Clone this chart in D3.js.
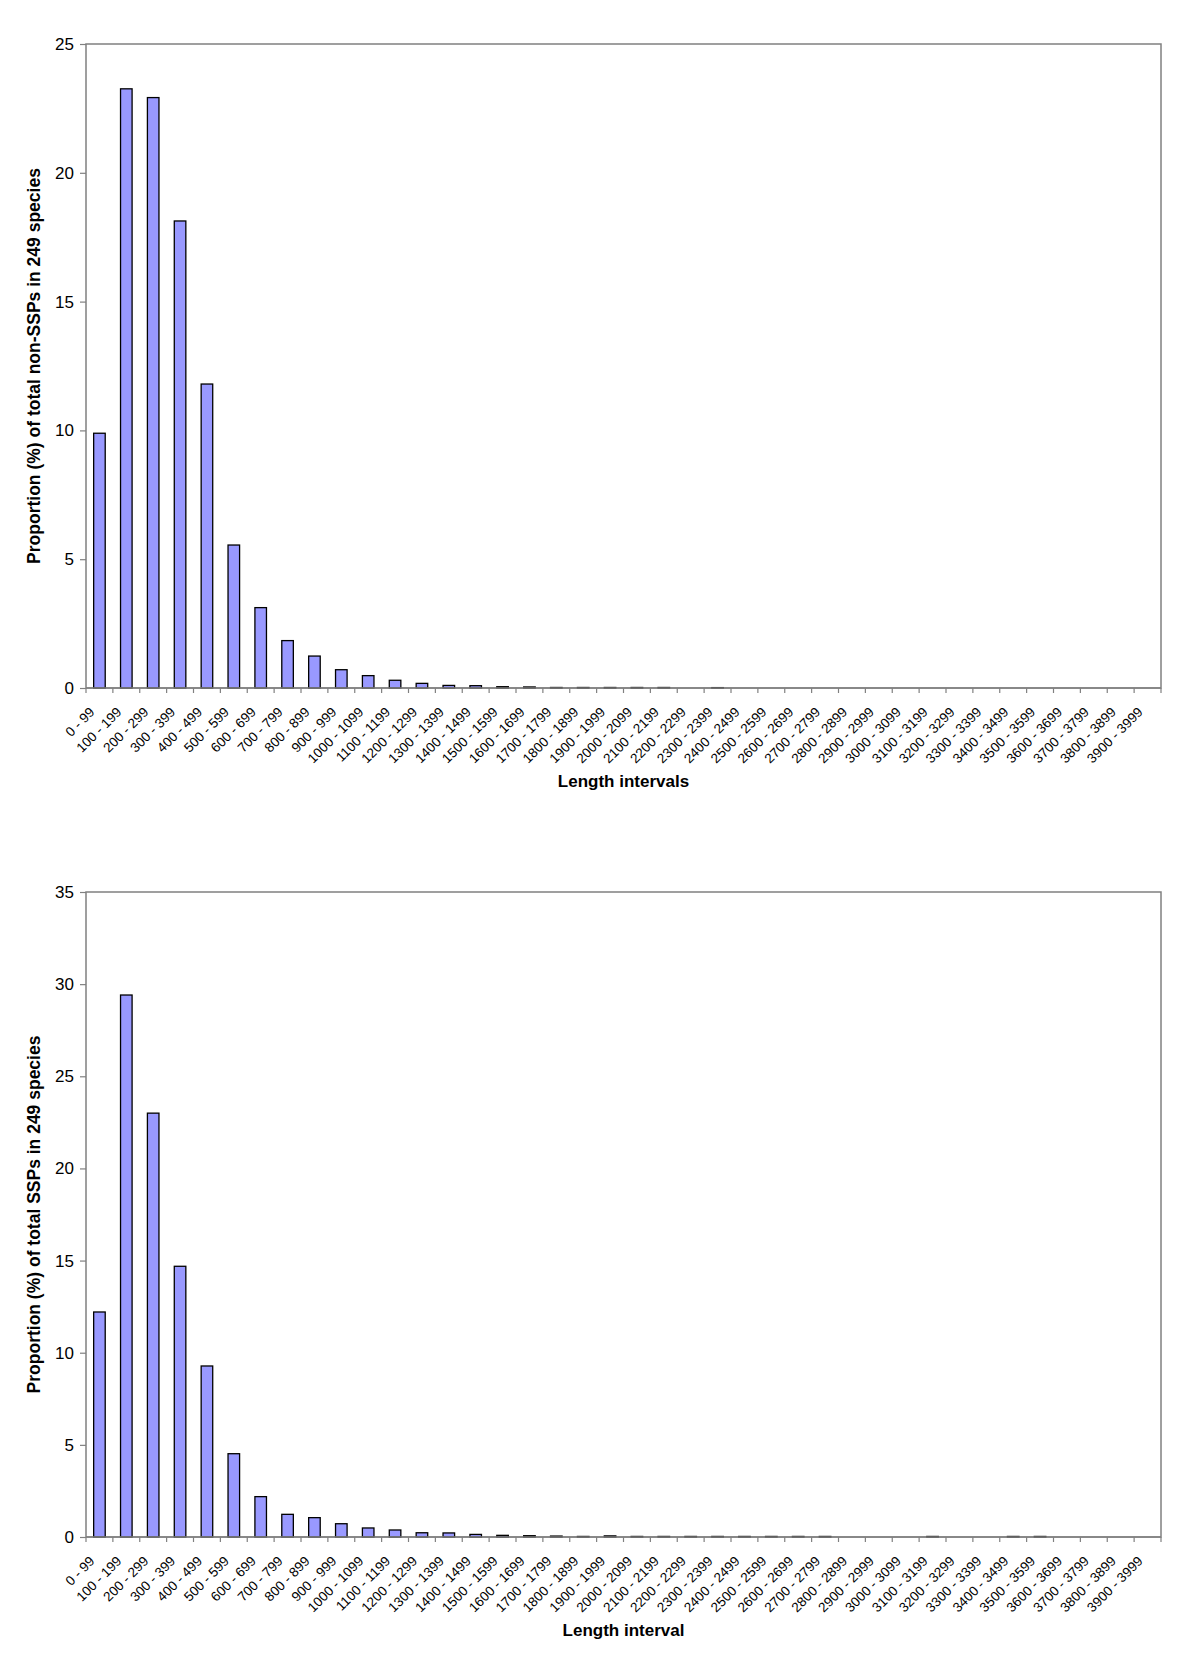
<!DOCTYPE html>
<html>
<head>
<meta charset="utf-8">
<script src="https://cdn.jsdelivr.net/npm/d3@7"></script>
<style>
  html, body { margin: 0; padding: 0; background: #fff; }
  svg { display: block; }
  text { font-family: "Liberation Sans", Arial, sans-serif; fill: #000; }
</style>
</head>
<body>
<svg id="chart" width="1200" height="1664"></svg>
<script>
// ---- Data ----
const categories = [
  "0 - 99","100 - 199","200 - 299","300 - 399","400 - 499","500 - 599","600 - 699","700 - 799",
  "800 - 899","900 - 999","1000 - 1099","1100 - 1199","1200 - 1299","1300 - 1399","1400 - 1499",
  "1500 - 1599","1600 - 1699","1700 - 1799","1800 - 1899","1900 - 1999","2000 - 2099","2100 - 2199",
  "2200 - 2299","2300 - 2399","2400 - 2499","2500 - 2599","2600 - 2699","2700 - 2799","2800 - 2899",
  "2900 - 2999","3000 - 3099","3100 - 3199","3200 - 3299","3300 - 3399","3400 - 3499","3500 - 3599",
  "3600 - 3699","3700 - 3799","3800 - 3899","3900 - 3999"
];

const nonSSPValues = [
  9.89, 23.26, 22.92, 18.13, 11.80, 5.55, 3.12, 1.84, 1.24, 0.71,
  0.48, 0.30, 0.18, 0.10, 0.09, 0.05, 0.04, 0.02, 0.02, 0.02,
  0.02, 0.02, 0, 0.015, 0, 0, 0, 0, 0, 0,
  0, 0, 0, 0, 0, 0, 0, 0, 0, 0
];

const sspValues = [
  12.21, 29.41, 23.00, 14.69, 9.28, 4.52, 2.19, 1.23, 1.05, 0.72,
  0.49, 0.38, 0.23, 0.22, 0.14, 0.09, 0.07, 0.05, 0.03, 0.06,
  0.03, 0.03, 0.03, 0.03, 0.03, 0.03, 0.03, 0.03, 0, 0,
  0, 0.03, 0, 0, 0.03, 0.03, 0, 0, 0, 0
];

const topTicks = [0, 5, 10, 15, 20, 25];
const bottomTicks = [0, 5, 10, 15, 20, 25, 30, 35];

const charts = [
  { values: nonSSPValues, ticks: topTicks, yMax: 25, top: 44, bottom: 688,
    yTitle: "Proportion (%) of total non-SSPs in 249 species", xTitle: "Length intervals", xTitleY: 787 },
  { values: sspValues, ticks: bottomTicks, yMax: 35, top: 892, bottom: 1537,
    yTitle: "Proportion (%) of total SSPs in 249 species", xTitle: "Length interval", xTitleY: 1636 }
];

// ---- Drawing ----
const svg = d3.select("#chart");
const left = 86, right = 1161;
const axisColor = "#808080";

charts.forEach(c => {
  const g = svg.append("g");
  const x = d3.scaleBand().domain(categories).range([left, right]).paddingInner(0.57).paddingOuter(0.285);
  const xb = d3.scaleBand().domain(categories).range([left, right]);
  const y = d3.scaleLinear().domain([0, c.yMax]).range([c.bottom, c.top]);

  // plot border
  g.append("rect")
    .attr("x", left).attr("y", c.top)
    .attr("width", right - left).attr("height", c.bottom - c.top)
    .attr("fill", "none").attr("stroke", axisColor).attr("stroke-width", 1.5);

  // y axis ticks + labels
  const yAxis = d3.axisLeft(y).tickValues(c.ticks).tickSize(6).tickPadding(6).tickFormat(d3.format("d"));
  const ya = g.append("g").attr("transform", `translate(${left},0)`).call(yAxis);
  ya.select(".domain").remove();
  ya.selectAll(".tick line").attr("stroke", axisColor).attr("stroke-width", 1.2);
  ya.selectAll(".tick text").attr("font-size", 17).attr("fill", "#000")
    .style("font-family", '"Liberation Sans", Arial, sans-serif');

  // x tick marks at category boundaries
  const boundaries = categories.map(d => xb(d)).concat([right]);
  g.selectAll(".xtick").data(boundaries).enter().append("line")
    .attr("x1", d => d).attr("x2", d => d)
    .attr("y1", c.bottom).attr("y2", c.bottom + 5)
    .attr("stroke", axisColor).attr("stroke-width", 1.2);

  // bars
  g.selectAll(".bar").data(c.values.map((v, i) => ({ v, cat: categories[i] })).filter(d => d.v > 0))
    .enter().append("rect")
    .attr("x", d => x(d.cat))
    .attr("y", d => y(d.v))
    .attr("width", x.bandwidth())
    .attr("height", d => c.bottom - y(d.v))
    .attr("fill", "#9999FF").attr("stroke", "#000").attr("stroke-width", 1.3);

  // redraw bottom axis line on top
  g.append("line").attr("x1", left).attr("x2", right).attr("y1", c.bottom).attr("y2", c.bottom)
    .attr("stroke", axisColor).attr("stroke-width", 1.5);

  // x tick labels
  g.selectAll(".xlabel").data(categories).enter().append("text")
    .attr("transform", d => `translate(${xb(d) + xb.bandwidth() / 2 - 4},${c.bottom + 25}) rotate(-45)`)
    .attr("text-anchor", "end")
    .attr("font-size", 13.5)
    .text(d => d);

  // axis titles
  g.append("text")
    .attr("transform", `translate(40,${(c.top + c.bottom) / 2}) rotate(-90)`)
    .attr("text-anchor", "middle")
    .attr("font-size", 17.5).attr("font-weight", "bold")
    .text(c.yTitle);

  g.append("text")
    .attr("x", (left + right) / 2).attr("y", c.xTitleY)
    .attr("text-anchor", "middle")
    .attr("font-size", 17).attr("font-weight", "bold")
    .text(c.xTitle);
});
</script>
</body>
</html>
